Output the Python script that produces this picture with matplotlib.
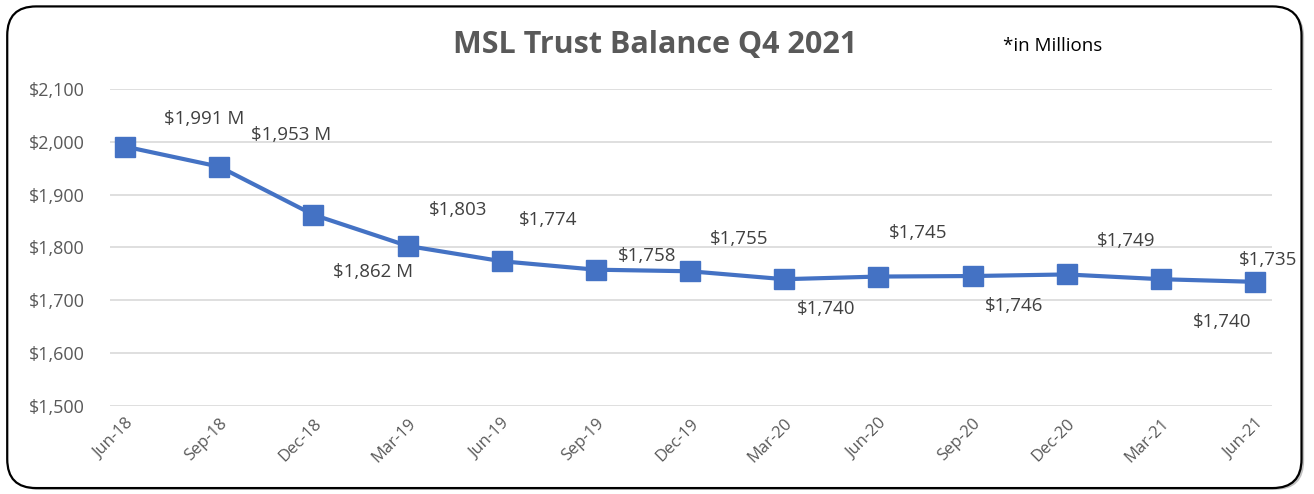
import matplotlib
matplotlib.use("Agg")
from matplotlib import pyplot as plt
from matplotlib.patches import FancyBboxPatch
from matplotlib.ticker import FuncFormatter

plt.rcParams['font.family'] = ['Open Sans', 'DejaVu Sans']

quarters = ['Jun-18', 'Sep-18', 'Dec-18', 'Mar-19', 'Jun-19', 'Sep-19', 'Dec-19',
            'Mar-20', 'Jun-20', 'Sep-20', 'Dec-20', 'Mar-21', 'Jun-21']
balance = [1991, 1953, 1862, 1803, 1774, 1758, 1755, 1740, 1745, 1746, 1749, 1740, 1735]
labels = ['$1,991 M', '$1,953 M', '$1,862 M', '$1,803', '$1,774', '$1,758', '$1,755',
          '$1,740', '$1,745', '$1,746', '$1,749', '$1,740', '$1,735']
# label offsets in pixels (dx, dy down) as laid out in the original
label_off = [(79, -28), (72, -32), (60, 57), (51, -36), (46, -41), (51, -14), (49, -32),
             (42, 30), (40, -44), (42, 30), (59, -33), (61, 43), (13, -22)]

fig = plt.figure(figsize=(13.14, 4.94), dpi=100)

# rounded border with a small shadow
shadow = FancyBboxPatch((0.0075, 0.0085), 0.985, 0.975, boxstyle="round,pad=0,rounding_size=0.022",
                        transform=fig.transFigure, facecolor='#bfbfbf', edgecolor='none',
                        mutation_aspect=1314/494, zorder=-2)
box = FancyBboxPatch((0.0055, 0.012), 0.985, 0.975, boxstyle="round,pad=0,rounding_size=0.022",
                     transform=fig.transFigure, facecolor='white', edgecolor='black', linewidth=1.6,
                     mutation_aspect=1314/494, zorder=-1)
fig.patches.extend([shadow, box])

ax = fig.add_axes([110/1314, 1 - 406/494, 1162/1314, 317/494])
ax.set_facecolor('none')
x = range(len(quarters))
ax.plot(x, balance, color='#4472C4', linewidth=3, marker='s', markersize=14, zorder=3)

for i, (lab, off) in enumerate(zip(labels, label_off)):
    ax.annotate(lab, (i, balance[i]), xytext=(off[0] * 0.72, -off[1] * 0.72),
                textcoords='offset points', ha='center', va='center',
                fontsize=13.5, color='#404040')

ax.set_ylim(1500, 2100)
ax.set_yticks(range(1500, 2101, 100))
ax.yaxis.set_major_formatter(FuncFormatter(lambda v, p: f'${v:,.0f}'))
ax.set_xlim(-0.16, 12.18)
ax.set_xticks(list(x))
ax.set_xticklabels(quarters, rotation=45, ha='right', rotation_mode='anchor')
ax.tick_params(axis='both', length=0, labelcolor='#595959')
ax.tick_params(axis='y', pad=18, labelsize=13)
ax.tick_params(axis='x', pad=7, labelsize=12)
ax.grid(axis='y', color='#d9d9d9', linewidth=1.2)
for s in ax.spines.values():
    s.set_visible(False)

fig.text(655/1314, 1 - 45/494, 'MSL Trust Balance Q4 2021', ha='center', va='center',
         fontsize=22, fontweight='bold', color='#595959')
fig.text(1053/1314, 1 - 46/494, '*in Millions', ha='center', va='center',
         fontsize=13.5, color='black')

fig.savefig('out.png', dpi=100)
